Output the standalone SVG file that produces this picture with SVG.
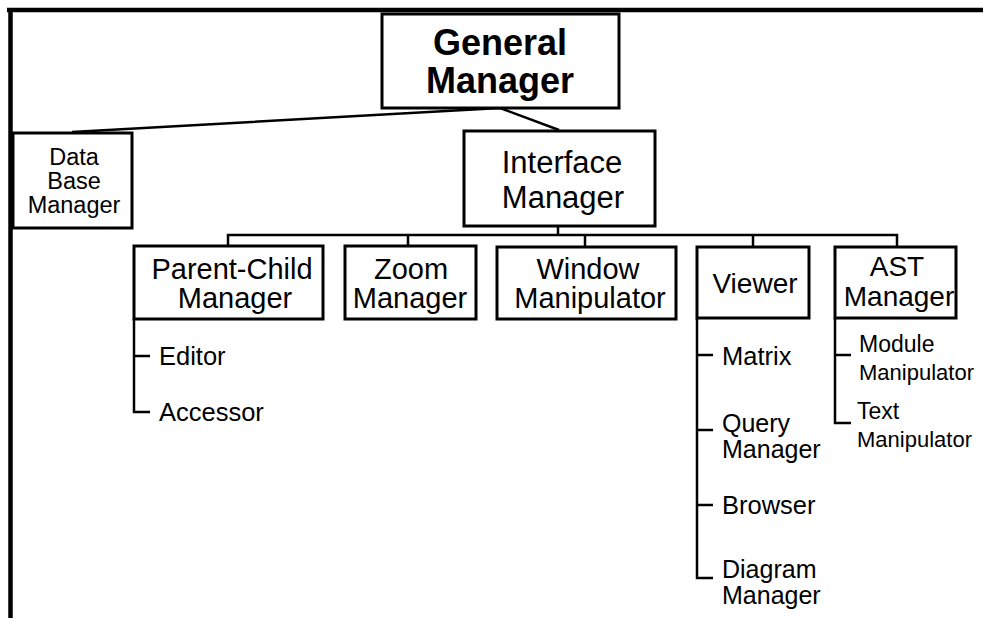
<svg xmlns="http://www.w3.org/2000/svg" width="983" height="618" viewBox="0 0 983 618">
  <style>
    .box { fill: #fff; stroke: #000; stroke-width: 3; }
    .lbl { font-family: "Liberation Sans", Arial, sans-serif; fill: #000; text-anchor: middle; }
    .item { font-family: "Liberation Sans", Arial, sans-serif; fill: #000; }
    .wire { fill: none; stroke: #000; stroke-width: 2.5; }
    .frame { fill: none; stroke: #000; stroke-width: 4.5; }
  </style>
  <rect width="983" height="618" fill="#fff"/>

  <!-- page frame -->
  <g id="frame">
    <line class="frame" x1="7" y1="10" x2="983" y2="10"/>
    <line class="frame" x1="10.5" y1="8" x2="10.5" y2="618"/>
  </g>

  <!-- connectors -->
  <g id="connectors">
    <polyline class="wire" points="72,132 500,108 559,130"/>
    <line class="wire" x1="558" y1="226" x2="558" y2="235"/>
    <polyline class="wire" points="228,246 228,235 897,235 897,247"/>
    <line class="wire" x1="408" y1="235" x2="408" y2="246"/>
    <line class="wire" x1="585" y1="235" x2="585" y2="247"/>
    <line class="wire" x1="753" y1="235" x2="753" y2="247"/>
    <!-- Parent-Child children -->
    <polyline class="wire" points="134,319 134,412 150,412"/>
    <line class="wire" x1="134" y1="356" x2="150" y2="356"/>
    <!-- Viewer children -->
    <polyline class="wire" points="697,318 697,578 713,578"/>
    <line class="wire" x1="697" y1="355" x2="713" y2="355"/>
    <line class="wire" x1="697" y1="430" x2="713" y2="430"/>
    <line class="wire" x1="697" y1="505" x2="713" y2="505"/>
    <!-- AST children -->
    <polyline class="wire" points="835,318 835,423 851,423"/>
    <line class="wire" x1="835" y1="355" x2="851" y2="355"/>
  </g>

  <g id="general-manager">
    <rect class="box" x="382" y="14" width="237" height="94"/>
    <text class="lbl" x="500" y="55" font-size="36" font-weight="bold">General</text>
    <text class="lbl" x="500" y="93" font-size="36" font-weight="bold">Manager</text>
  </g>

  <g id="data-base-manager">
    <rect class="box" x="13" y="133" width="119" height="95"/>
    <text class="lbl" x="74" y="165" font-size="23.5">Data</text>
    <text class="lbl" x="74" y="189" font-size="23.5">Base</text>
    <text class="lbl" x="74" y="213" font-size="23.5">Manager</text>
  </g>

  <g id="interface-manager">
    <rect class="box" x="464" y="131" width="191" height="95"/>
    <text class="lbl" x="562" y="173" font-size="31">Interface</text>
    <text class="lbl" x="563" y="208" font-size="31">Manager</text>
  </g>

  <g id="parent-child-manager">
    <rect class="box" x="134" y="246" width="189" height="73"/>
    <text class="lbl" x="232" y="279" font-size="29">Parent-Child</text>
    <text class="lbl" x="235" y="308" font-size="29">Manager</text>
  </g>

  <g id="zoom-manager">
    <rect class="box" x="345" y="246" width="131" height="73"/>
    <text class="lbl" x="411" y="279" font-size="29">Zoom</text>
    <text class="lbl" x="410" y="308" font-size="29">Manager</text>
  </g>

  <g id="window-manipulator">
    <rect class="box" x="497" y="247" width="179" height="72"/>
    <text class="lbl" x="588" y="279" font-size="29">Window</text>
    <text class="lbl" x="590" y="308" font-size="29">Manipulator</text>
  </g>

  <g id="viewer">
    <rect class="box" x="697" y="247" width="112" height="71"/>
    <text class="lbl" x="755" y="293" font-size="28">Viewer</text>
  </g>

  <g id="ast-manager">
    <rect class="box" x="835" y="247" width="121" height="71"/>
    <text class="lbl" x="897" y="276" font-size="28">AST</text>
    <text class="lbl" x="899" y="306" font-size="28">Manager</text>
  </g>

  <g id="editor"><text class="item" x="159" y="365" font-size="25.5">Editor</text></g>
  <g id="accessor"><text class="item" x="159" y="421" font-size="25.5">Accessor</text></g>

  <g id="matrix"><text class="item" x="722" y="365" font-size="25.5">Matrix</text></g>
  <g id="query-manager">
    <text class="item" x="722" y="432" font-size="25">Query</text>
    <text class="item" x="722" y="458" font-size="25">Manager</text>
  </g>
  <g id="browser"><text class="item" x="722" y="514" font-size="25.5">Browser</text></g>
  <g id="diagram-manager">
    <text class="item" x="722" y="578" font-size="25">Diagram</text>
    <text class="item" x="722" y="604" font-size="25">Manager</text>
  </g>

  <g id="module-manipulator">
    <text class="item" x="859" y="352" font-size="23">Module</text>
    <text class="item" x="859" y="380" font-size="22">Manipulator</text>
  </g>
  <g id="text-manipulator">
    <text class="item" x="857" y="419" font-size="23">Text</text>
    <text class="item" x="857" y="447" font-size="22">Manipulator</text>
  </g>
</svg>
